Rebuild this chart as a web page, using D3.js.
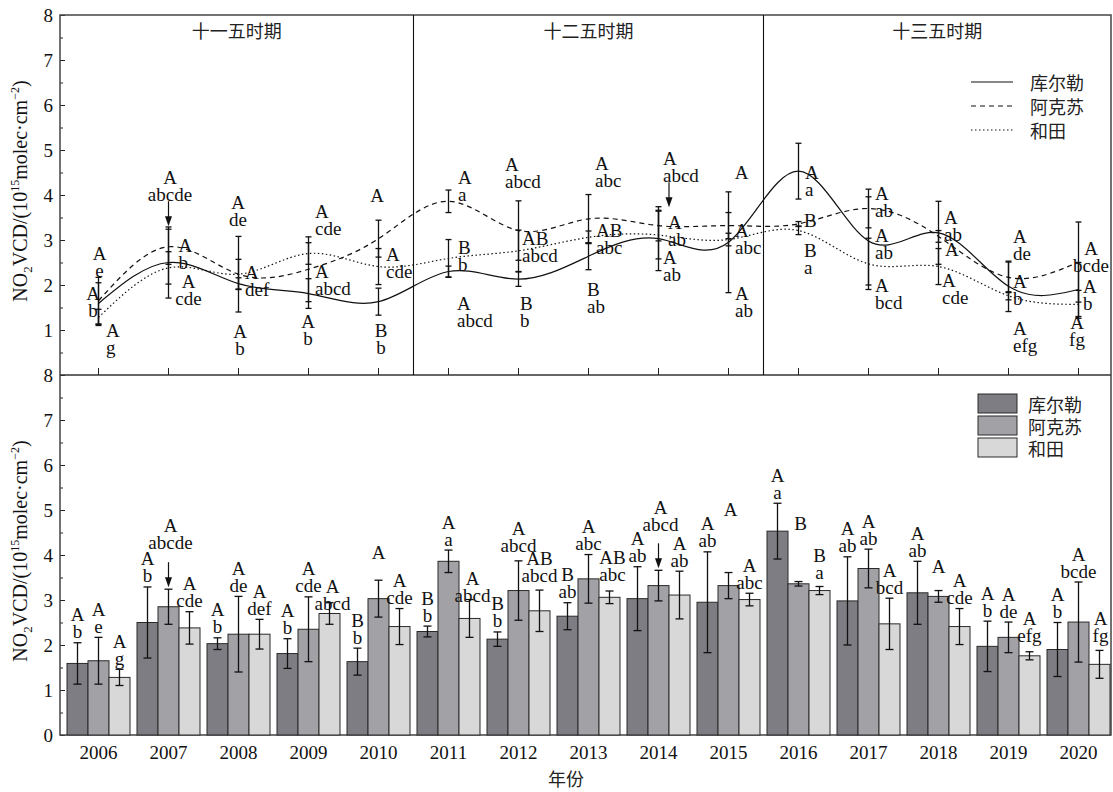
<!DOCTYPE html>
<html><head><meta charset="utf-8">
<script src="https://cdn.jsdelivr.net/npm/d3@7/dist/d3.min.js"></script>
<style>body{margin:0;background:#fff} svg text{font-family:'Liberation Serif','Times New Roman',serif;}</style>
</head><body>
<script>
// ---------------- DATA ----------------
const years = [2006,2007,2008,2009,2010,2011,2012,2013,2014,2015,2016,2017,2018,2019,2020];
const seriesNames = ["库尔勒","阿克苏","和田"];
const korla    = [1.59,2.50,2.03,1.81,1.63,2.30,2.13,2.64,3.03,2.95,4.53,2.98,3.16,1.97,1.90];
const korlaErr = [0.46,0.79,0.13,0.33,0.30,0.12,0.16,0.30,0.71,1.12,0.62,0.98,0.70,0.56,0.60];
const aksu     = [1.65,2.85,2.24,2.35,3.03,3.86,3.21,3.47,3.32,3.32,3.36,3.70,3.08,2.17,2.51];
const aksuErr  = [0.52,0.39,0.84,0.72,0.41,0.25,0.66,0.54,0.34,0.29,0.05,0.43,0.13,0.34,0.89];
const hotan    = [1.28,2.38,2.24,2.70,2.41,2.59,2.76,3.06,3.11,3.01,3.21,2.47,2.41,1.76,1.57];
const hotanErr = [0.18,0.36,0.33,0.24,0.40,0.42,0.46,0.14,0.53,0.14,0.09,0.57,0.40,0.09,0.31];
// significance letters
const korlaUp  = ["A","A","A","A","B","B","B","B","A","A","A","A","A","A","A"];
const korlaLow = ["b","b","b","b","b","b","b","ab","ab","ab","a","ab","ab","b","b"];
const aksuUp   = ["A","A","A","A","A","A","A","A","A","A","B","A","A","A","A"];
const aksuLow  = ["e","abcde","de","cde","","a","abcd","abc","abcd","","","ab","","de","bcde"];
const hotanUp  = ["A","A","A","A","A","A","AB","AB","A","A","B","A","A","A","A"];
const hotanLow = ["g","cde","def","abcd","cde","abcd","abcd","abc","ab","abc","a","bcd","cde","efg","fg"];
const periods = ["十一五时期","十二五时期","十三五时期"];
const yTicksTop = [1,2,3,4,5,6,7,8];
const yTicksBot = [0,1,2,3,4,5,6,7,8];

// ---------------- LAYOUT (annotation placement) ----------------
// top panel: [series, anchor, dx(px), label height in data units]
const topPlace = [
 [[0,"middle",-5.5,1.82],[1,"middle",1,2.71],[2,"start",7.5,1.00]],
 [[0,"start",10,2.87],[1,"middle",1.5,4.40],[2,"middle",20,2.07]],
 [[0,"middle",1.5,0.96],[1,"middle",-0.5,3.84],[2,"start",6.5,2.27]],
 [[0,"middle",-0.5,1.18],[1,"start",6.5,3.64],[2,"start",6.5,2.31]],
 [[0,"middle",2.5,1.00],[1,"middle",-1.5,4.00],[2,"start",7.5,2.67]],
 [[0,"start",9.5,2.84],[1,"start",9.5,4.38],[2,"start",8.5,1.58]],
 [[0,"start",1.5,1.60],[1,"start",-13.5,4.67],[2,"start",3.5,3.04]],
 [[0,"start",-1.5,1.89],[1,"start",6.5,4.69],[2,"start",7.5,3.22]],
 [[0,"start",4.5,2.62],[1,"start",4.5,4.82],[2,"start",9.5,3.38]],
 [[0,"start",6.5,1.82],[1,"middle",13,4.51],[2,"start",6.5,3.22]],
 [[0,"start",6.5,4.49],[1,"start",5.5,3.44],[2,"start",5.5,2.76]],
 [[0,"start",6.5,3.11],[1,"start",6.5,4.04],[2,"start",6.5,2.00]],
 [[0,"start",5.5,3.51],[1,"start",6.5,2.80],[2,"start",3.5,2.11]],
 [[0,"start",4.5,2.07],[1,"start",4.5,3.07],[2,"start",4.5,1.04]],
 [[0,"start",4.5,1.96],[1,"middle",12.5,2.82],[2,"middle",-1.5,1.16]]
];
const topArrows = [[1,1,0],[8,1,10.5]];   // [yearIdx, series, dx]
const botArrows = [[1,1],[8,1]];
// bottom panel nudges: key "yearIdx-series" -> [dx, dy]
const botNudge = {"1-1":[2,-36],"3-2":[3,12],"5-2":[3,7],"6-1":[0,-4],"6-2":[0,-4],"7-2":[3,-6],
  "8-1":[2,-35],"9-1":[2,-35],"10-1":[2,-30],"10-2":[0,-3],"12-1":[0,4],"13-2":[0,-5],"14-2":[1,-4]};

// ---------------- DRAW ----------------
const W=1113,H=792;
const LATIN="'Liberation Serif','Times New Roman',serif";
const CJK="'Noto Sans CJK SC','Noto Sans CJK JP',sans-serif";
const plotL=60, plotR=1111, topY0=15, midY=375, botY=735;
const svg=d3.select("body").append("svg").attr("width",W).attr("height",H);

const means=[korla,aksu,hotan], errs=[korlaErr,aksuErr,hotanErr];
const ups=[korlaUp,aksuUp,hotanUp], lows=[korlaLow,aksuLow,hotanLow];
const colors=["#7d7d83","#a1a1a6","#d8d8d8"];
const dashes=[null,"5,4","1.5,2.5"];

const x=d3.scaleBand().domain(years).range([63.5,1113.5]).paddingInner(0.1).paddingOuter(0.05);
const xs=d3.scaleBand().domain([0,1,2]).range([0,x.bandwidth()]);
const xc=i=>x(years[i])+x.bandwidth()/2;
const yT=d3.scaleLinear().domain([0,8]).range([midY,topY0]);
const yB=d3.scaleLinear().domain([0,8]).range([botY,midY]);

// axes
function yAxis(scale,ticks){
  const g=svg.append("g").attr("transform",`translate(${plotL},0)`)
    .call(d3.axisLeft(scale).tickValues(ticks).tickSize(-5).tickPadding(7).tickFormat(d3.format("d")));
  const g2=svg.append("g").attr("transform",`translate(${plotL},0)`)
    .call(d3.axisLeft(scale).tickValues(d3.range(0.5,8,1)).tickSize(-3).tickFormat(""));
  [g,g2].forEach(gg=>{gg.selectAll("path.domain").remove(); gg.selectAll("line").attr("stroke","#222");});
  g.selectAll("text").attr("font-size",19).attr("font-family",LATIN).attr("fill","#111");
}
yAxis(yT,yTicksTop); yAxis(yB,yTicksBot);
const xaT=svg.append("g").attr("transform",`translate(0,${midY})`)
  .call(d3.axisBottom(x).tickSize(-7).tickFormat(""));
xaT.selectAll("path.domain").remove();
const xaB=svg.append("g").attr("transform",`translate(0,${botY})`)
  .call(d3.axisBottom(x).tickSize(-6).tickPadding(11));
xaB.selectAll("path.domain").remove();
xaB.selectAll("text").attr("font-size",19).attr("font-family",LATIN).attr("fill","#111");
[xaT,xaB].forEach(g=>g.selectAll("line").attr("stroke","#222"));

// frames
svg.append("rect").attr("x",plotL).attr("y",topY0).attr("width",plotR-plotL).attr("height",botY-topY0)
  .attr("fill","none").attr("stroke","#444").attr("stroke-width",1.5);
svg.append("line").attr("x1",plotL).attr("x2",plotR).attr("y1",midY).attr("y2",midY).attr("stroke","#333").attr("stroke-width",1.5);
const sep1=(xc(4)+xc(5))/2, sep2=(xc(9)+xc(10))/2;
[sep1,sep2].forEach(s=>svg.append("line").attr("x1",s).attr("x2",s).attr("y1",topY0).attr("y2",midY).attr("stroke","#111").attr("stroke-width",1.1));
const pc=[(plotL+sep1)/2,(sep1+sep2)/2,(sep2+plotR)/2];
periods.forEach((p,i)=>svg.append("text").attr("x",pc[i]).attr("y",38).attr("text-anchor","middle")
  .style("font-family",CJK).attr("font-size",18).attr("fill","#222").text(p));

// y titles
function yTitle(cy){
  const t=svg.append("text").attr("transform",`translate(27,${cy}) rotate(-90)`).attr("text-anchor","middle")
    .attr("font-size",20).attr("font-family",LATIN).attr("fill","#111");
  t.append("tspan").text("NO");
  t.append("tspan").attr("font-size",13).attr("dy",5).text("2");
  t.append("tspan").attr("dy",-5).text("VCD/(10");
  t.append("tspan").attr("font-size",12).attr("dy",-8).text("15");
  t.append("tspan").attr("dy",8).text("molec·cm");
  t.append("tspan").attr("font-size",12).attr("dy",-8).text("−2");
  t.append("tspan").attr("dy",8).text(")");
}
yTitle(191); yTitle(551);
svg.append("text").attr("x",566).attr("y",786).attr("text-anchor","middle").style("font-family",CJK)
  .attr("font-size",18).attr("fill","#222").text("年份");

// ---- top panel: curves ----
means.forEach((m,s)=>{
  const line=d3.line().x((d,i)=>xc(i)).y(d=>yT(d)).curve(d3.curveNatural);
  svg.append("path").attr("d",line(m)).attr("fill","none").attr("stroke","#111")
    .attr("stroke-width",1.2).attr("stroke-dasharray",dashes[s]);
});
function errBar(cx,y1,y2,cap){
  const g=svg.append("g").attr("stroke","#111").attr("stroke-width",1.3);
  g.append("line").attr("x1",cx).attr("x2",cx).attr("y1",y1).attr("y2",y2);
  g.append("line").attr("x1",cx-cap).attr("x2",cx+cap).attr("y1",y1).attr("y2",y1);
  g.append("line").attr("x1",cx-cap).attr("x2",cx+cap).attr("y1",y2).attr("y2",y2);
}
means.forEach((m,s)=>m.forEach((v,i)=>errBar(xc(i),yT(v+errs[s][i]),yT(v-errs[s][i]),3)));

function label(xp,yUpperBase,up,low,anchor){
  const t=svg.append("text").attr("font-size",19).attr("fill","#111").attr("text-anchor",anchor)
    .attr("font-family",LATIN).attr("x",xp).attr("y",yUpperBase);
  t.append("tspan").attr("x",xp).text(up);
  if(low) t.append("tspan").attr("x",xp).attr("dy",17).text(low);
}
topPlace.forEach((arr,i)=>arr.forEach(([s,anc,dx,v])=>{
  label(xc(i)+dx,yT(v)+6.5,ups[s][i],lows[s][i],anc);
}));
function arrow(ax,yTip){
  svg.append("line").attr("x1",ax).attr("x2",ax).attr("y1",yTip-25).attr("y2",yTip-6).attr("stroke","#111").attr("stroke-width",1.2);
  svg.append("path").attr("d",`M${ax-3.5},${yTip-10}L${ax+3.5},${yTip-10}L${ax},${yTip}Z`).attr("fill","#111");
}
topArrows.forEach(([i,s,dx])=>arrow(xc(i)+dx,yT(means[s][i]+errs[s][i])-3));

// legend top
const lgT=[82,106,130];
seriesNames.forEach((n,s)=>{
  svg.append("line").attr("x1",971).attr("x2",1013).attr("y1",lgT[s]).attr("y2",lgT[s]).attr("stroke","#111")
    .attr("stroke-width",1.2).attr("stroke-dasharray",dashes[s]);
  svg.append("text").attr("x",1030).attr("y",lgT[s]).attr("dominant-baseline","central").style("font-family",CJK)
    .attr("font-size",18).attr("fill","#222").text(n);
});

// ---- bottom panel: bars ----
means.forEach((m,s)=>{
  svg.append("g").selectAll("rect").data(m).join("rect")
    .attr("x",(d,i)=>x(years[i])+xs(s)).attr("width",xs.bandwidth())
    .attr("y",d=>yB(d)).attr("height",d=>yB(0)-yB(d))
    .attr("fill",colors[s]).attr("stroke","#2a2a2a").attr("stroke-width",1);
});
means.forEach((m,s)=>m.forEach((v,i)=>{
  const cx=x(years[i])+xs(s)+xs.bandwidth()/2;
  errBar(cx,yB(v+errs[s][i]),yB(v-errs[s][i]),4);
}));
means.forEach((m,s)=>m.forEach((v,i)=>{
  const cx=x(years[i])+xs(s)+xs.bandwidth()/2;
  const nd=botNudge[i+"-"+s]||[0,0];
  const top=yB(v+errs[s][i]);
  label(cx+nd[0],top-21.5+nd[1],ups[s][i],lows[s][i],"middle");
}));
botArrows.forEach(([i,s])=>{
  const cx=x(years[i])+xs(s)+xs.bandwidth()/2;
  arrow(cx,yB(means[s][i]+errs[s][i])-2);
});

// legend bottom
const lgB=[394,416,438];
seriesNames.forEach((n,s)=>{
  svg.append("rect").attr("x",978).attr("y",lgB[s]).attr("width",39).attr("height",19)
    .attr("fill",colors[s]).attr("stroke","#2a2a2a").attr("stroke-width",1);
  svg.append("text").attr("x",1028).attr("y",lgB[s]+9.5).attr("dominant-baseline","central").style("font-family",CJK)
    .attr("font-size",18).attr("fill","#222").text(n);
});
</script>
</body></html>
